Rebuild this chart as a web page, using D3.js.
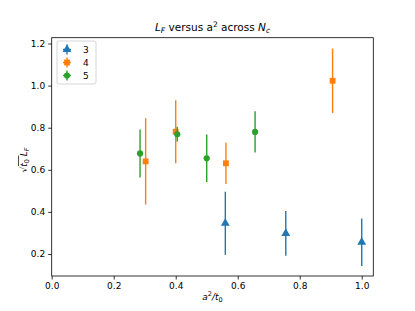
<!DOCTYPE html>
<html>
<head>
<meta charset="utf-8">
<script src="https://cdn.jsdelivr.net/npm/d3@7"></script>
<style>
  body { margin: 0; background: #fff; }
  svg text { font-family: "DejaVu Sans", sans-serif; fill: #000; }
</style>
</head>
<body>
<svg id="chart" width="415" height="311"></svg>
<script>
// --- DATA ---
const seriesNames = ["3", "4", "5"];
const seriesColors = ["#1f77b4", "#ff7f0e", "#2ca02c"];

const x3 = [0.56, 0.755, 1.0];
const y3 = [0.346, 0.298, 0.256];
const e3 = [0.150, 0.106, 0.113];

const x4 = [0.303, 0.40, 0.562, 0.906];
const y4 = [0.640, 0.781, 0.631, 1.023];
const e4 = [0.205, 0.150, 0.098, 0.153];

const x5 = [0.285, 0.405, 0.50, 0.656];
const y5 = [0.678, 0.769, 0.655, 0.780];
const e5 = [0.114, 0.035, 0.113, 0.098];

const xTicks = [0.0, 0.2, 0.4, 0.6, 0.8, 1.0];
const yTicks = [0.2, 0.4, 0.6, 0.8, 1.0, 1.2];

const series = [
  { name: seriesNames[0], xs: x3, ys: y3, es: e3 },
  { name: seriesNames[1], xs: x4, ys: y4, es: e4 },
  { name: seriesNames[2], xs: x5, ys: y5, es: e5 }
];

const svg = d3.select("#chart");
const plotLeft = 51.7, plotRight = 373.3, plotTop = 37.7, plotBottom = 276;

const x = d3.scaleLinear().domain([0, 1.0373]).range([plotLeft, plotRight]);
const y = d3.scaleLinear().domain([0.0955, 1.2276]).range([plotBottom, plotTop]);

// --- AXES ---
const xAxis = svg.append("g")
  .attr("transform", `translate(0,${plotBottom})`)
  .call(d3.axisBottom(x).tickValues(xTicks).tickFormat(d3.format(".1f")).tickSize(3.5).tickPadding(3));
const yAxis = svg.append("g")
  .attr("transform", `translate(${plotLeft},0)`)
  .call(d3.axisLeft(y).tickValues(yTicks).tickFormat(d3.format(".1f")).tickSize(3.5).tickPadding(3));
[xAxis, yAxis].forEach(a => {
  a.select(".domain").remove();
  a.selectAll("text").attr("font-size", 9).style("font-family", "DejaVu Sans, sans-serif");
  a.selectAll("line").attr("stroke", "#000").attr("stroke-width", 0.8);
});

// frame
svg.append("rect")
  .attr("x", plotLeft).attr("y", plotTop)
  .attr("width", plotRight - plotLeft).attr("height", plotBottom - plotTop)
  .attr("fill", "none").attr("stroke", "#000").attr("stroke-width", 0.8);

// --- ERROR BARS + MARKERS ---
const symbolGen = (i) => d3.symbol()
  .type([d3.symbolTriangle, d3.symbolSquare, d3.symbolCircle][i])
  .size([34, 34, 30][i]);

series.forEach((s, i) => {
  const g = svg.append("g");
  const pts = s.xs.map((v, j) => ({ x: v, y: s.ys[j], e: s.es[j] }));
  g.selectAll("line")
    .data(pts)
    .enter()
    .append("line")
    .attr("x1", d => x(d.x)).attr("x2", d => x(d.x))
    .attr("y1", d => y(d.y - d.e)).attr("y2", d => y(d.y + d.e))
    .attr("stroke", seriesColors[i])
    .attr("stroke-width", 1.4);
  g.selectAll("path")
    .data(pts)
    .enter()
    .append("path")
    .attr("d", symbolGen(i)())
    .attr("transform", d => `translate(${x(d.x)},${y(d.y)})`)
    .attr("fill", seriesColors[i]);
});

// --- LEGEND ---
const legend = svg.append("g");
legend.append("rect")
  .attr("x", 57).attr("y", 41).attr("width", 39).attr("height", 43).attr("rx", 2)
  .attr("fill", "#fff").attr("fill-opacity", 0.8)
  .attr("stroke", "#ccc").attr("stroke-width", 0.8);
seriesNames.forEach((n, i) => {
  const ly = 49.5 + i * 13;
  legend.append("line")
    .attr("x1", 67).attr("x2", 67).attr("y1", ly - 5).attr("y2", ly + 5)
    .attr("stroke", seriesColors[i]).attr("stroke-width", 1.4);
  legend.append("line")
    .attr("x1", 63).attr("x2", 71).attr("y1", ly).attr("y2", ly)
    .attr("stroke", seriesColors[i]).attr("stroke-width", 1.4);
  legend.append("path")
    .attr("d", symbolGen(i)())
    .attr("transform", `translate(67,${ly})`)
    .attr("fill", seriesColors[i]);
  legend.append("text")
    .attr("x", 83).attr("y", ly + 3.3)
    .attr("font-size", 9)
    .text(n);
});

// --- TITLE ---
const title = svg.append("text")
  .attr("x", (plotLeft + plotRight) / 2).attr("y", 31)
  .attr("text-anchor", "middle")
  .attr("font-size", 10.5);
title.append("tspan").attr("font-style", "italic").text("L");
title.append("tspan").attr("font-style", "italic").attr("font-size", 7.5).attr("dy", 2).text("F");
title.append("tspan").attr("dy", -2).text(" versus a");
title.append("tspan").attr("font-size", 7.5).attr("dy", -4).text("2");
title.append("tspan").attr("dy", 4).text(" across ");
title.append("tspan").attr("font-style", "italic").text("N");
title.append("tspan").attr("font-style", "italic").attr("font-size", 7.5).attr("dy", 2).text("c");

// --- X LABEL ---
const xl = svg.append("text")
  .attr("x", (plotLeft + plotRight) / 2).attr("y", 300)
  .attr("text-anchor", "middle")
  .attr("font-size", 9);
xl.append("tspan").attr("font-style", "italic").text("a");
xl.append("tspan").attr("font-size", 6.5).attr("dy", -4).text("2");
xl.append("tspan").attr("dy", 4).attr("font-style", "italic").text("/t");
xl.append("tspan").attr("font-size", 6.5).attr("dy", 2).text("0");

// --- Y LABEL ---
const ylG = svg.append("g").attr("transform", "translate(27,160) rotate(-90)");
const yl = ylG.append("text")
  .attr("x", 0).attr("y", 0)
  .attr("text-anchor", "middle")
  .attr("font-size", 9);
yl.append("tspan").text("\u221A");
yl.append("tspan").attr("font-style", "italic").text("t");
yl.append("tspan").attr("font-size", 6.5).attr("dy", 2).text("0");
yl.append("tspan").attr("dy", -2).attr("font-style", "italic").text(" L");
yl.append("tspan").attr("font-size", 6.5).attr("font-style", "italic").attr("dy", 2).text("F");
// overbar for the square root
const bb = yl.node().getBBox();
ylG.append("line")
  .attr("x1", bb.x + 6.5).attr("x2", bb.x + 17)
  .attr("y1", -8.5).attr("y2", -8.5)
  .attr("stroke", "#000").attr("stroke-width", 0.7);
</script>
</body>
</html>
